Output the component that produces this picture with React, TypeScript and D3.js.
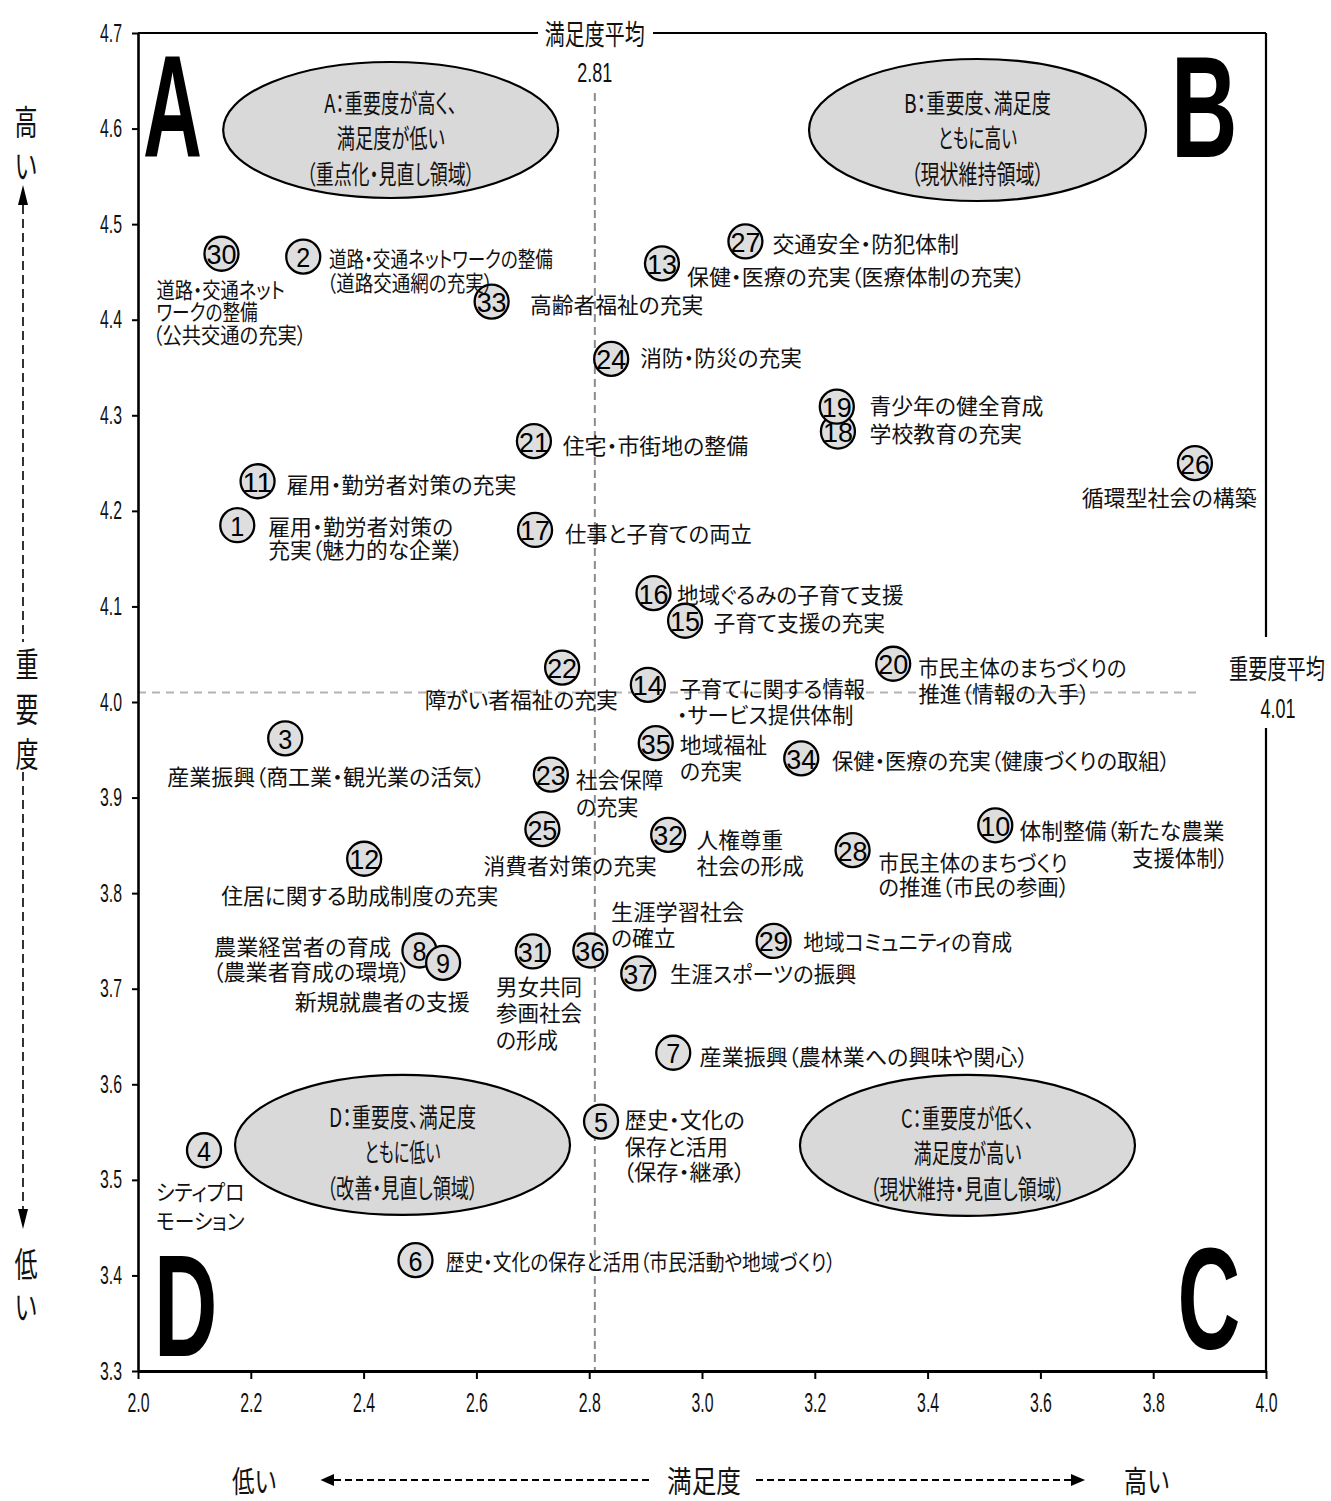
import React, { useEffect, useRef } from 'react';
import * as d3 from 'd3';

// ---------- data ----------
const itemIds = [
  1, 2, 3, 4, 5, 6, 7, 8, 9, 10, 11, 12, 13, 14, 15, 16, 17, 18, 19, 20,
  21, 22, 23, 24, 25, 26, 27, 28, 29, 30, 31, 32, 33, 34, 35, 36, 37,
];
// 満足度 (x)
const satisfaction = [
  2.176, 2.293, 2.261, 2.117, 2.821, 2.492, 2.949, 2.499, 2.541, 3.52,
  2.212, 2.401, 2.929, 2.904, 2.97, 2.914, 2.704, 3.241, 3.239, 3.339,
  2.702, 2.752, 2.732, 2.839, 2.717, 3.874, 3.077, 3.267, 3.127, 2.148,
  2.7, 2.94, 2.627, 3.176, 2.918, 2.802, 2.887,
];
// 重要度 (y)
const importance = [
  4.185, 4.466, 3.962, 3.531, 3.561, 3.416, 3.633, 3.74, 3.727, 3.871,
  4.231, 3.836, 4.459, 4.018, 4.085, 4.114, 4.18, 4.283, 4.309, 4.04,
  4.273, 4.036, 3.924, 4.359, 3.867, 4.25, 4.482, 3.845, 3.75, 4.469,
  3.739, 3.861, 4.419, 3.941, 3.957, 3.74, 3.716,
];
const itemLabels: string[][] = [
  ['雇用・勤労者対策の', '充実（魅力的な企業）'],
  ['道路・交通ネットワークの整備', '（道路交通網の充実）'],
  ['産業振興（商工業・観光業の活気）'],
  ['シティプロ', 'モーション'],
  ['歴史・文化の', '保存と活用', '（保存・継承）'],
  ['歴史・文化の保存と活用（市民活動や地域づくり）'],
  ['産業振興（農林業への興味や関心）'],
  ['農業経営者の育成', '（農業者育成の環境）'],
  ['新規就農者の支援'],
  ['体制整備（新たな農業', '支援体制）'],
  ['雇用・勤労者対策の充実'],
  ['住居に関する助成制度の充実'],
  ['保健・医療の充実（医療体制の充実）'],
  ['子育てに関する情報', '・サービス提供体制'],
  ['子育て支援の充実'],
  ['地域ぐるみの子育て支援'],
  ['仕事と子育ての両立'],
  ['学校教育の充実'],
  ['青少年の健全育成'],
  ['市民主体のまちづくりの', '推進（情報の入手）'],
  ['住宅・市街地の整備'],
  ['障がい者福祉の充実'],
  ['社会保障', 'の充実'],
  ['消防・防災の充実'],
  ['消費者対策の充実'],
  ['循環型社会の構築'],
  ['交通安全・防犯体制'],
  ['市民主体のまちづくり', 'の推進（市民の参画）'],
  ['地域コミュニティの育成'],
  ['道路・交通ネット', 'ワークの整備', '（公共交通の充実）'],
  ['男女共同', '参画社会', 'の形成'],
  ['人権尊重', '社会の形成'],
  ['高齢者福祉の充実'],
  ['保健・医療の充実（健康づくりの取組）'],
  ['地域福祉', 'の充実'],
  ['生涯学習社会', 'の確立'],
  ['生涯スポーツの振興'],
];
const xTicks = [2.0, 2.2, 2.4, 2.6, 2.8, 3.0, 3.2, 3.4, 3.6, 3.8, 4.0];
const yTicks = [3.3, 3.4, 3.5, 3.6, 3.7, 3.8, 3.9, 4.0, 4.1, 4.2, 4.3, 4.4, 4.5, 4.6, 4.7];
const avgSatisfaction = 2.81;
const avgImportance = 4.01;
const quadrantLetters = ['A', 'B', 'C', 'D'];
const quadrantTexts: string[][] = [
  ['A：重要度が高く、', '満足度が低い', '（重点化・見直し領域）'],
  ['B：重要度、満足度', 'ともに高い', '（現状維持領域）'],
  ['C：重要度が低く、', '満足度が高い', '（現状維持・見直し領域）'],
  ['D：重要度、満足度', 'ともに低い', '（改善・見直し領域）'],
];
const quadrantCenterX = [2.448, 3.4885, 3.4707, 2.469];
const quadrantCenterY = [4.5985, 4.5985, 3.536, 3.5365];

// ---------- layout (pixels) ----------
type LabelLayout = { dx: number | number[]; dy: number[]; w: number[] };
const labelLayout: LabelLayout[] = [
  { dx: 31, dy: [0, 23.3], w: [185, 195] },
  { dx: [25.7, 23.7], dy: [0.6, 24.3], w: [224, 166] },
  { dx: -118, dy: [37], w: [318] },
  { dx: -48, dy: [40, 68.3], w: [88.5, 88.5] },
  { dx: [23.7, 23.7, 22], dy: [-3.4, 23.3, 48.3], w: [120, 103, 122] },
  { dx: 30.2, dy: [0], w: [390] },
  { dx: 26.4, dy: [2.3], w: [328.6] },
  { dx: [-205.5, -207], dy: [-5, 20], w: [177, 198] },
  { dx: -148.4, dy: [36.7], w: [175] },
  { dx: [24.3, 136.8], dy: [3.3, 31], w: [205, 96] },
  { dx: 29, dy: [1.6], w: [230] },
  { dx: -143, dy: [35], w: [277] },
  { dx: 25, dy: [11.7], w: [338.3] },
  { dx: [31.6, 29], dy: [2.7, 28.3], w: [185.7, 176.6] },
  { dx: 28.3, dy: [0.7], w: [171.7] },
  { dx: 23.4, dy: [0], w: [226.6] },
  { dx: 30, dy: [1.7], w: [186.7] },
  { dx: 31.6, dy: [0.6], w: [152.4] },
  { dx: 32.6, dy: [-2.4], w: [174] },
  { dx: 25, dy: [2.7, 28.4], w: [208.4, 171.7] },
  { dx: 28.7, dy: [2.6], w: [185.6] },
  { dx: -137.4, dy: [30], w: [193] },
  { dx: 25, dy: [3.3, 30], w: [87.6, 62.6] },
  { dx: 29, dy: [-2.6], w: [161.7] },
  { dx: -58.9, dy: [34.7], w: [173.2] },
  { dx: -113.3, dy: [33.4], w: [175] },
  { dx: 27, dy: [0.7], w: [186.6] },
  { dx: 25.8, dy: [11, 35], w: [189.2, 191] },
  { dx: 29.7, dy: [-0.8], w: [208.8] },
  { dx: [-65, -65, -68.7], dy: [34.7, 56.7, 79.7], w: [128.3, 101.3, 153.7] },
  { dx: -36.9, dy: [33.3, 60, 86.6], w: [86, 86, 62] },
  { dx: 28.4, dy: [3, 28.7], w: [86.6, 107.3] },
  { dx: 38.3, dy: [1.3], w: [173.3] },
  { dx: 30.7, dy: [1], w: [338.3] },
  { dx: 24, dy: [0, 25.6], w: [87.3, 62.3] },
  { dx: 20.7, dy: [-40, -14], w: [133.3, 64.5] },
  { dx: 31.7, dy: [-1.6], w: [186.5] },
];
const quadrantRx = [167.5, 168.5, 167.5, 167.5];
const quadrantRy = [68, 71, 70.5, 70];
const quadrantTextDy = [-29, 6, 42];
const quadrantTextW = [
  [133, 108, 168],
  [147, 79, 133],
  [133, 108, 195],
  [147, 76, 151],
];
// big letters: x of advance start, baseline, advance width
const letterPos = [
  { x: 143, y: 156, w: 59 },
  { x: 1171, y: 157, w: 66.5 },
  { x: 1177.6, y: 1349, w: 62.8 },
  { x: 154, y: 1356, w: 63.4 },
];

const W = 1331;
const H = 1501;
const PL = 138;
const PR = 1266;
const PT = 33;
const PB = 1371;

const CJK = '"Noto Sans CJK JP", sans-serif';
const LAT = '"Liberation Sans", Arial, sans-serif';

export default function App() {
  const xAxisRef = useRef<SVGGElement>(null);
  const yAxisRef = useRef<SVGGElement>(null);
  const x = d3.scaleLinear().domain([2, 4]).range([PL, PR]);
  const y = d3.scaleLinear().domain([3.3, 4.7]).range([PB, PT]);

  useEffect(() => {
    const gx = d3.select(xAxisRef.current as SVGGElement);
    gx.call(
      d3
        .axisBottom(x)
        .tickValues(xTicks)
        .tickFormat(d3.format('.1f') as any)
        .tickSize(8)
        .tickSizeOuter(0)
        .tickPadding(13)
    );
    gx.select('.domain').attr('stroke', '#000').attr('stroke-width', 3);
    gx.selectAll('.tick line').attr('stroke', '#000').attr('stroke-width', 2);
    gx.selectAll('.tick text')
      .attr('font-family', LAT)
      .attr('font-size', 28)
      .attr('fill', '#111')
      .attr('textLength', 22)
      .attr('lengthAdjust', 'spacingAndGlyphs');

    const gy = d3.select(yAxisRef.current as SVGGElement);
    gy.call(
      d3
        .axisLeft(y)
        .tickValues(yTicks)
        .tickFormat(d3.format('.1f') as any)
        .tickSize(6)
        .tickSizeOuter(0)
        .tickPadding(10)
    );
    gy.select('.domain').attr('stroke', '#000').attr('stroke-width', 2.6);
    gy.selectAll('.tick line').attr('stroke', '#000').attr('stroke-width', 2);
    gy.selectAll('.tick text')
      .attr('font-family', LAT)
      .attr('font-size', 25)
      .attr('fill', '#111')
      .attr('textLength', 22)
      .attr('lengthAdjust', 'spacingAndGlyphs');
  }, []);

  const ax = x(avgSatisfaction);
  const ay = y(avgImportance);

  const vChar = (ch: string, cx: number, cy: number, key: string) => (
    <text
      key={key}
      x={cx}
      y={cy}
      textAnchor="middle"
      dominantBaseline="central"
      fontFamily={CJK}
      fontSize={34}
      textLength={23}
      lengthAdjust="spacingAndGlyphs"
      fill="#111"
    >
      {ch}
    </text>
  );

  return (
    <svg
      width={W}
      height={H}
      viewBox={`0 0 ${W} ${H}`}
      style={{ position: 'absolute', left: 0, top: 0, display: 'block', background: '#fff' }}
    >
      <rect x={0} y={0} width={W} height={H} fill="#fff" />

      {/* frame: top and right with gaps */}
      <line x1={PL} x2={538} y1={PT} y2={PT} stroke="#000" strokeWidth={2.2} />
      <line x1={653} x2={PR} y1={PT} y2={PT} stroke="#000" strokeWidth={2.2} />
      <line x1={PR} x2={PR} y1={PT} y2={637} stroke="#000" strokeWidth={2.2} />
      <line x1={PR} x2={PR} y1={728} y2={PB} stroke="#000" strokeWidth={2.2} />

      {/* average lines */}
      <line x1={ax} x2={ax} y1={93} y2={PB} stroke="#8c8c8c" strokeWidth={2} strokeDasharray="8,5" />
      <line x1={PL} x2={1202} y1={ay} y2={ay} stroke="#b3b3b3" strokeWidth={2} strokeDasharray="8,6" />

      {/* average labels */}
      <text x={ax} y={33} textAnchor="middle" dominantBaseline="central" fontFamily={CJK} fontSize={28}
        textLength={100} lengthAdjust="spacingAndGlyphs" fill="#111">満足度平均</text>
      <text x={ax} y={82} textAnchor="middle" fontFamily={LAT} fontSize={28}
        textLength={35} lengthAdjust="spacingAndGlyphs" fill="#111">{avgSatisfaction.toFixed(2)}</text>
      <text transform="translate(1277,667) scale(0.71,1)" textAnchor="middle" dominantBaseline="central"
        fontFamily={CJK} fontSize={27} fill="#111">重要度平均</text>
      <text x={1278} y={718} textAnchor="middle" fontFamily={LAT} fontSize={27}
        textLength={35} lengthAdjust="spacingAndGlyphs" fill="#111">{avgImportance.toFixed(2)}</text>

      {/* quadrant ellipses */}
      {quadrantTexts.map((lines, i) => {
        const cx = x(quadrantCenterX[i]);
        const cy = y(quadrantCenterY[i]);
        return (
          <g key={'q' + i}>
            <ellipse cx={cx} cy={cy} rx={quadrantRx[i]} ry={quadrantRy[i]} fill="#d9d9d9" stroke="#000" strokeWidth={2.2} />
            {lines.map((t, j) => (
              <text
                key={j}
                x={cx}
                y={cy + quadrantTextDy[j]}
                textAnchor="middle"
                dominantBaseline="central"
                fontFamily={CJK}
                fontSize={26}
                textLength={quadrantTextW[i][j]}
                lengthAdjust="spacingAndGlyphs"
                style={{ fontFeatureSettings: '"palt"' }}
                fill="#111"
              >
                {t}
              </text>
            ))}
          </g>
        );
      })}

      {/* big quadrant letters */}
      {quadrantLetters.map((l, i) => (
        <text
          key={'L' + l}
          x={letterPos[i].x}
          y={letterPos[i].y}
          fontFamily={LAT}
          fontWeight="bold"
          fontSize={145}
          textLength={letterPos[i].w}
          lengthAdjust="spacingAndGlyphs"
          fill="#000"
        >
          {l}
        </text>
      ))}

      {/* axes */}
      <g ref={yAxisRef} transform={`translate(${PL},0)`} />
      <g ref={xAxisRef} transform={`translate(0,${PB})`} />

      {/* points */}
      {itemIds.map((id, i) => {
        const cx = x(satisfaction[i]);
        const cy = y(importance[i]);
        const s = String(id);
        return (
          <g key={'p' + id}>
            <circle cx={cx} cy={cy} r={17} fill="#dedede" stroke="#000" strokeWidth={2.3} />
            <text
              x={cx}
              y={cy + 1}
              textAnchor="middle"
              dominantBaseline="central"
              fontFamily={LAT}
              fontSize={28}
              textLength={s.length > 1 ? 30 : 14}
              lengthAdjust="spacingAndGlyphs"
              fill="#000"
            >
              {s}
            </text>
          </g>
        );
      })}

      {/* labels */}
      {itemIds.map((id, i) => {
        const cx = x(satisfaction[i]);
        const cy = y(importance[i]);
        const L = labelLayout[i];
        return itemLabels[i].map((line, j) => {
          const dx = Array.isArray(L.dx) ? L.dx[j] : L.dx;
          return (
            <text
              key={'t' + id + '-' + j}
              x={cx + dx}
              y={cy + L.dy[j]}
              dominantBaseline="central"
              fontFamily={CJK}
              fontSize={22}
              textLength={L.w[j]}
              lengthAdjust="spacingAndGlyphs"
              style={{ fontFeatureSettings: '"palt"' }}
              fill="#111"
            >
              {line}
            </text>
          );
        });
      })}

      {/* vertical axis title */}
      {vChar('高', 26, 120, 'v1')}
      {vChar('い', 26, 164, 'v2')}
      <path d="M23,185 L28,205 L18,205 Z" fill="#000" />
      <line x1={23} x2={23} y1={205} y2={642} stroke="#000" strokeWidth={1.6} strokeDasharray="9,5" />
      {vChar('重', 27, 662, 'v3')}
      {vChar('要', 27, 707, 'v4')}
      {vChar('度', 27, 752, 'v5')}
      <line x1={23} x2={23} y1={772} y2={1210} stroke="#000" strokeWidth={1.6} strokeDasharray="9,5" />
      <path d="M23,1229 L28,1209 L18,1209 Z" fill="#000" />
      {vChar('低', 26, 1262, 'v6')}
      {vChar('い', 26, 1305, 'v7')}

      {/* horizontal axis title */}
      <text x={254.5} y={1479} textAnchor="middle" dominantBaseline="central" fontFamily={CJK} fontSize={30}
        textLength={45} lengthAdjust="spacingAndGlyphs" fill="#111">低い</text>
      <path d="M320.5,1480 L334,1474 L334,1486 Z" fill="#000" />
      <line x1={334} x2={652} y1={1480} y2={1480} stroke="#000" strokeWidth={1.8} strokeDasharray="7,4" />
      <text x={704} y={1479} textAnchor="middle" dominantBaseline="central" fontFamily={CJK} fontSize={30}
        textLength={74} lengthAdjust="spacingAndGlyphs" fill="#111">満足度</text>
      <line x1={756} x2={1072} y1={1480} y2={1480} stroke="#000" strokeWidth={1.8} strokeDasharray="7,4" />
      <path d="M1085,1480 L1071,1474 L1071,1486 Z" fill="#000" />
      <text x={1147} y={1479} textAnchor="middle" dominantBaseline="central" fontFamily={CJK} fontSize={30}
        textLength={46} lengthAdjust="spacingAndGlyphs" fill="#111">高い</text>
    </svg>
  );
}
